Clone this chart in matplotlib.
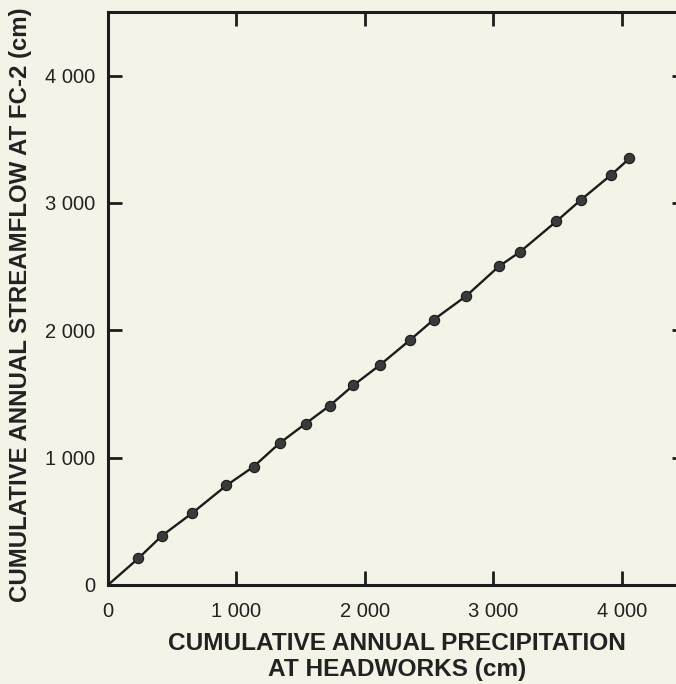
import matplotlib
matplotlib.use("Agg")
import matplotlib.pyplot as plt

# Data (cm)
precip = [0, 237, 419, 656, 922, 1133, 1336, 1539, 1727, 1909, 2120,
          2355, 2535, 2789, 3043, 3205, 3491, 3681, 3916, 4060]
streamflow = [0, 210, 386, 565, 782, 929, 1114, 1268, 1409, 1567, 1730,
              1927, 2083, 2270, 2502, 2614, 2856, 3024, 3220, 3350]

tick_values = [0, 1000, 2000, 3000, 4000]
tick_labels = ["0", "1 000", "2 000", "3 000", "4 000"]

bg = "#f3f3e7"
ink = "#1c1c1c"

plt.rcParams['font.family'] = ['Liberation Sans', 'DejaVu Sans']

fig = plt.figure(figsize=(6.76, 6.84), dpi=100, facecolor=bg)
ax = fig.add_axes([108/676, 99/684, 578/676, 573/684], facecolor=bg)

# line through origin and points (origin has no marker)
ax.plot(precip, streamflow, color=ink, lw=1.7, zorder=2)
ax.plot(precip[1:], streamflow[1:], ls="none", marker="o", ms=7.4,
        mfc="#3a3a3a", mec="#1a1a1a", mew=0.8, zorder=3)

ax.set_xlim(0, 4500)
ax.set_ylim(0, 4500)

ax.set_xticks(tick_values)
ax.set_xticklabels(tick_labels)
ax.set_yticks(tick_values)
ax.set_yticklabels(tick_labels)

ax.tick_params(direction="in", length=10, width=2, color=ink,
               top=True, right=True, labelsize=14.5, labelcolor="#222222")
ax.tick_params(axis="x", pad=12)
ax.tick_params(axis="y", pad=9)

for s in ax.spines.values():
    s.set_linewidth(2.2)
    s.set_color(ink)

ax.set_xlabel("CUMULATIVE ANNUAL PRECIPITATION\nAT HEADWORKS (cm)",
              fontsize=17.6, fontweight="bold", color="#222222",
              linespacing=1.2, labelpad=8)
ax.set_ylabel("CUMULATIVE ANNUAL STREAMFLOW AT FC-2 (cm)",
              fontsize=17.3, fontweight="bold", color="#222222")
ax.yaxis.set_label_coords(-0.1315, 0.49)

fig.savefig("out.png", dpi=100, facecolor=bg)
